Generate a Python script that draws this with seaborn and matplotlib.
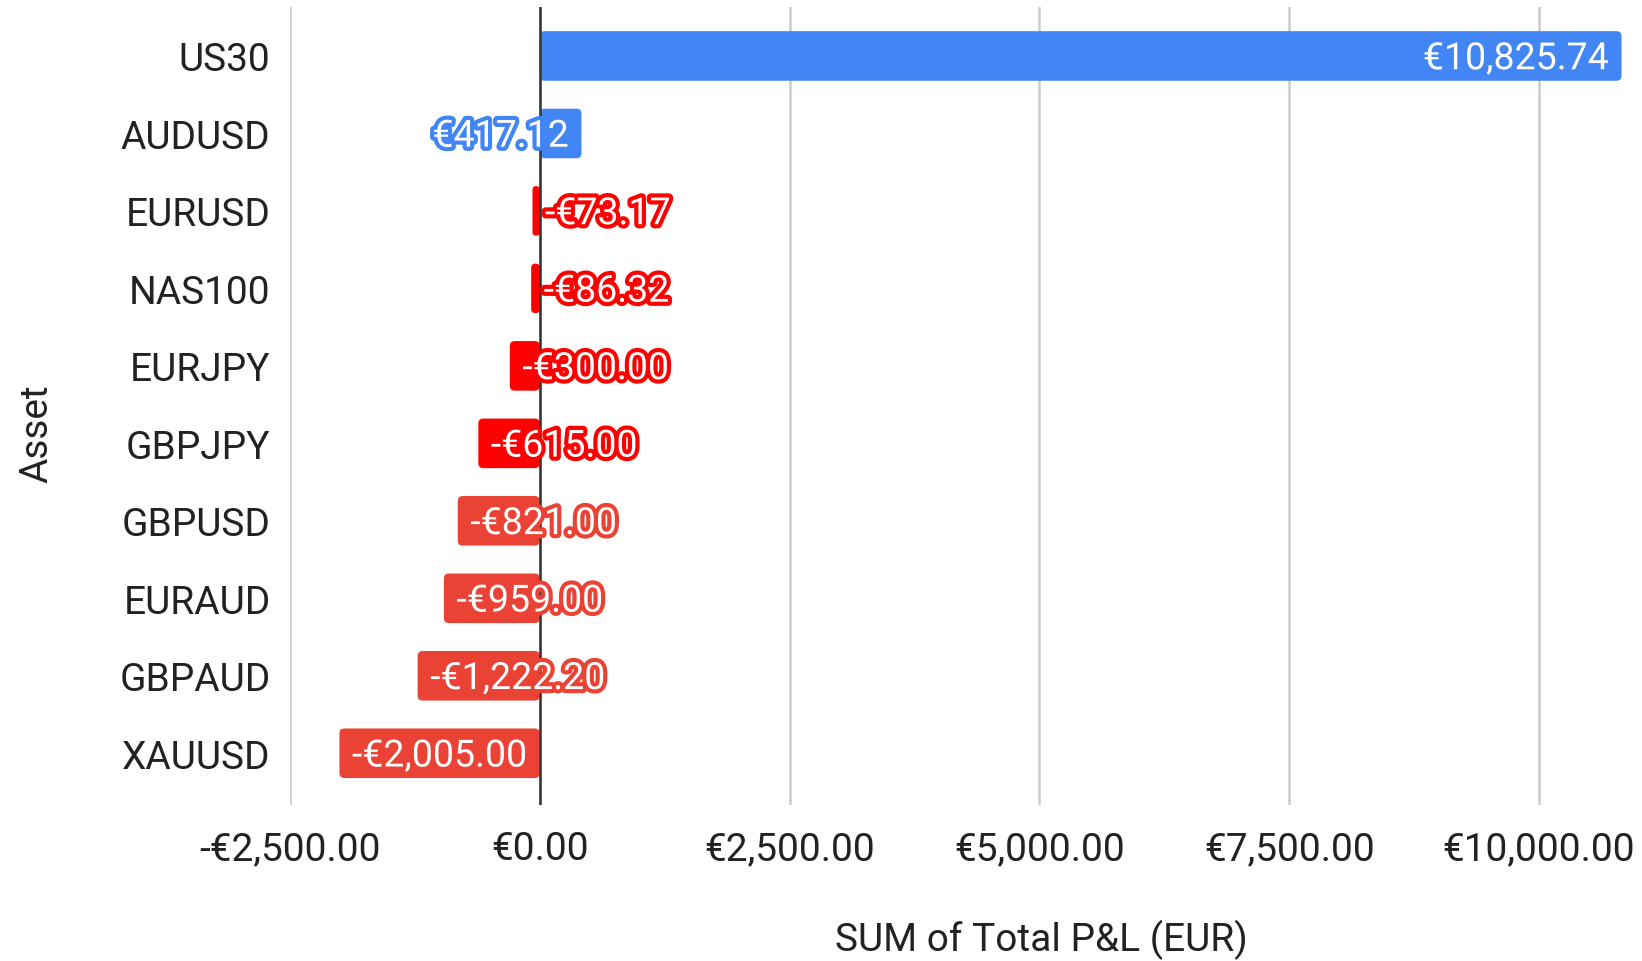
import pandas as pd
import seaborn as sns
import matplotlib.pyplot as plt
import matplotlib.patheffects as pe
from matplotlib.patches import FancyBboxPatch
from matplotlib.ticker import FuncFormatter

assets = ['US30', 'AUDUSD', 'EURUSD', 'NAS100', 'EURJPY', 'GBPJPY',
          'GBPUSD', 'EURAUD', 'GBPAUD', 'XAUUSD']
pnl = [10825.74, 417.12, -73.17, -86.32, -300.00, -615.00,
       -821.00, -959.00, -1222.20, -2005.00]
bar_colors = ['#4285F4', '#4285F4', '#FF0000', '#FF0000', '#FF0000', '#FF0000',
              '#EA4335', '#EA4335', '#EA4335', '#EA4335']
ticks = [-2500, 0, 2500, 5000, 7500, 10000]

df = pd.DataFrame({'Asset': assets, 'PnL': pnl})

sns.set_style('white')
plt.rcParams['font.family'] = ['Roboto', 'DejaVu Sans']

fig = plt.figure(figsize=(16.42, 9.62), dpi=100)
ax = fig.add_axes([0.1766, 0.162, 0.8124, 0.830])

sns.barplot(data=df, x='PnL', y='Asset', hue='Asset', palette=bar_colors,
            legend=False, width=0.64, orient='h', ax=ax, saturation=1)

ax.set_xlim(-2500, 10850)
ax.set_ylim(9.67, -0.636)

# swap the plain rectangles for slightly rounded ones (like the sheets chart)
for p in list(ax.patches):
    x, y = p.get_x(), p.get_y()
    w, h = p.get_width(), p.get_height()
    if w < 0:
        x, w = x + w, -w
    r = min(50, w / 2)
    fb = FancyBboxPatch((x, y), w, h, boxstyle='round,pad=0,rounding_size=%g' % r,
                        mutation_aspect=0.00129, fc=p.get_facecolor(), ec='none', zorder=2)
    p.remove()
    ax.add_patch(fb)

def euro(v):
    s = '€{:,.2f}'.format(abs(v))
    return '-' + s if v < 0 else s

# value labels sit inside the bar end, outlined in the bar colour
for i, (v, c) in enumerate(zip(pnl, bar_colors)):
    if v >= 0:
        ha, off = 'right', -9
    else:
        ha, off = 'left', 9
    t = ax.annotate(euro(v), xy=(v, i), xytext=(off, -2), textcoords='offset points',
                    ha=ha, va='center', color='white', fontsize=27, zorder=5)
    t.set_path_effects([pe.Stroke(linewidth=6, foreground=c), pe.Normal()])

ax.set_xticks(ticks)
ax.xaxis.set_major_formatter(FuncFormatter(lambda v, p: euro(v)))
ax.grid(axis='x', color='#cccccc', linewidth=1.8, zorder=0)
ax.set_axisbelow(True)
ax.axvline(0, color='#333333', linewidth=1.8, zorder=3)
sns.despine(ax=ax, left=True, bottom=True, right=True, top=True)
ax.tick_params(axis='both', length=0, labelsize=28, colors='#222222')
ax.tick_params(axis='x', pad=18)
ax.tick_params(axis='y', pad=14)

ax.set_xlabel('SUM of Total P&L (EUR)', fontsize=28, color='#222222')
ax.set_ylabel('Asset', fontsize=28, color='#222222')
ax.xaxis.set_label_coords(0.563, -0.142)
ax.yaxis.set_label_coords(-0.176, 0.466)

fig.savefig('out.png', dpi=100)
